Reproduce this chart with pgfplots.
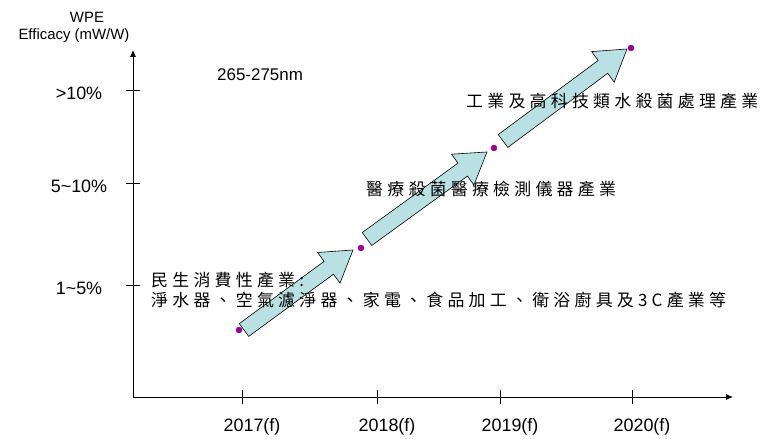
\documentclass[border=0pt]{standalone}
\usepackage{pgfplots}
\pgfplotsset{compat=1.18}
\usetikzlibrary{arrows.meta}
\usepackage{fontspec}
\setmainfont{Liberation Sans}
\newfontfamily\cjk{Noto Sans CJK TC}[LetterSpace=25]
\definecolor{arrowfill}{RGB}{185,225,228}
\definecolor{dotpurple}{RGB}{153,0,153}

\begin{document}
\begin{tikzpicture}
\begin{axis}[
    x=1bp, y=1bp,
    xmin=133, xmax=733, ymin=0, ymax=347,
    axis lines=left,
    axis line style={line width=0.8bp, -{Latex[length=7bp,width=6bp]}},
    clip=false,
    tick align=center,
    major tick length=14bp,
    tick style={black, line width=0.8bp},
    xtick={242,377,500,632},
    xticklabels={2017(f),2018(f),2019(f),2020(f)},
    ytick={112,214,307},
    yticklabels={1\textasciitilde5\%, 5\textasciitilde10\%, >10\%},
    xticklabel style={anchor=center, xshift=10bp, yshift=-23bp},
    yticklabel style={anchor=center, xshift=-47bp, yshift=-3bp},
    ticklabel style={font=\fontsize{18}{20}\selectfont},
    ]
% block arrows (pixel-read outlines)
\addplot[fill=arrowfill, draw=black, line width=0.6bp] coordinates {
  (248.7,60.6) (333.5,122.8) (340.0,113.9) (353,147) (317.6,144.5) (324.1,135.6) (239.3,73.4)} -- cycle;
\addplot[fill=arrowfill, draw=black, line width=0.6bp] coordinates {
  (371.7,151.5) (467.4,220.9) (473.9,212.0) (487,245) (451.5,242.8) (458.0,233.9) (362.3,164.5)} -- cycle;
\addplot[fill=arrowfill, draw=black, line width=0.6bp] coordinates {
  (507.8,249.6) (607.7,323.7) (614.2,314.8) (627,348) (591.6,345.4) (598.1,336.5) (498.2,262.4)} -- cycle;
% milestone dots
\addplot[only marks, mark=*, mark size=3bp, color=dotpurple] coordinates {
  (239,67) (361,149) (494,249) (631,349)};

\node[font=\fontsize{15}{17}\selectfont] at (axis cs:87,380) {WPE};
\node[font=\fontsize{15}{17}\selectfont] at (axis cs:74,361) {Efficacy (mW/W)};
\node[anchor=west, inner sep=0, font=\fontsize{17}{19}\selectfont] at (axis cs:217,322) {265-275nm};
\node[anchor=west, inner sep=0, font=\cjk\fontsize{17}{19}\selectfont] at (axis cs:466,296) {工業及高科技類水殺菌處理產業};
\node[anchor=west, inner sep=0, font=\cjk\fontsize{17}{19}\selectfont] at (axis cs:366,208) {醫療殺菌醫療檢測儀器產業};
\node[anchor=west, inner sep=0, font=\cjk\fontsize{17}{19}\selectfont] at (axis cs:151,117) {民生消費性產業:};
\node[anchor=west, inner sep=0, font=\cjk\fontsize{17}{19}\selectfont] at (axis cs:151,97) {淨水器、空氣濾淨器、家電、食品加工、衛浴廚具及3C產業等};

\coordinate (bl) at (axis cs:0,-42);
\coordinate (tr) at (axis cs:764,397);
\end{axis}
\pgfresetboundingbox
\path (bl) rectangle (tr);
\end{tikzpicture}
\end{document}
